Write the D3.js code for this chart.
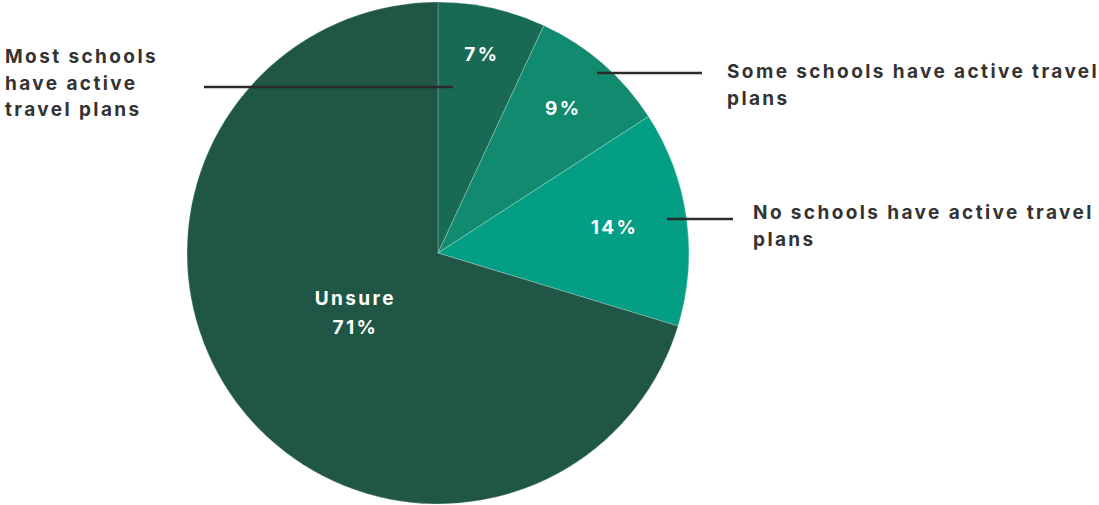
<!DOCTYPE html>
<html>
<head>
<meta charset="utf-8">
<script src="https://cdn.jsdelivr.net/npm/d3@7"></script>
<style>
  body { margin: 0; background: #fff; }
  text { font-family: Inter, "Noto Sans", sans-serif; font-weight: 700; }
</style>
</head>
<body>
<svg width="1099" height="505"></svg>
<script>
// slice data, clockwise from 12 o'clock
let categories = ['Most schools have active travel plans', 'Some schools have active travel plans', 'No schools have active travel plans', 'Unsure'];
let values = [7, 9, 14, 71];
let colors = ['#186a54', '#128a6f', '#049e84', '#205646'];

// inner label lines (white) and outer label lines
let innerLabels = [['7%'], ['9%'], ['14%'], ['Unsure', '71%']];
let outerLabels = [['Most schools', 'have active', 'travel plans'], ['Some schools have active travel', 'plans'], ['No schools have active travel', 'plans'], []];

const width = 1099, height = 505;
const cx = 438, cy = 253, radius = 251;

// where the inner labels sit, as a share of the radius
const labelRadius = [0.81, 0.76, 0.71, 0.41];

// leader lines: start / end relative to centre, text position
const callouts = [
  { x1: 15, x2: -234, y: -166, tx: 5, ty: 63 },
  { x1: 159, x2: 264, y: -180, tx: 727, ty: 78 },
  { x1: 229, x2: 295, y: -34, tx: 753, ty: 219 },
  null
];

const data = categories.map((c, i) => ({ name: c, value: values[i], i: i }));

const svg = d3.select('svg');
const g = svg.append('g').attr('transform', 'translate(' + cx + ',' + cy + ')');

const pie = d3.pie().value(d => d.value).sort(null);
const arcs = pie(data);
const arc = d3.arc().innerRadius(0).outerRadius(radius);

g.selectAll('path')
  .data(arcs)
  .enter()
  .append('path')
  .attr('d', arc)
  .attr('fill', d => colors[d.data.i])
  .attr('stroke', 'rgba(255,255,255,0.3)')
  .attr('stroke-width', 0.8);

// leader lines
g.selectAll('line.leader')
  .data(callouts.filter(c => c))
  .enter()
  .append('line')
  .attr('class', 'leader')
  .attr('x1', d => d.x1)
  .attr('x2', d => d.x2)
  .attr('y1', d => d.y)
  .attr('y2', d => d.y)
  .attr('stroke', '#2b2b2b')
  .attr('stroke-width', 2.5);

// inner percentage labels
arcs.forEach(function (a) {
  const i = a.data.i;
  const mid = (a.startAngle + a.endAngle) / 2;
  const r = radius * labelRadius[i];
  const x = Math.sin(mid) * r;
  const y = -Math.cos(mid) * r;
  const lines = innerLabels[i];
  const t = g.append('text')
    .attr('x', x)
    .attr('y', y - (lines.length - 1) * 15 + 6)
    .attr('text-anchor', 'middle')
    .attr('fill', '#fff')
    .attr('font-size', 19)
    .attr('letter-spacing', 2.4);
  lines.forEach(function (l, k) {
    t.append('tspan').attr('x', x).attr('dy', k == 0 ? 0 : 29).text(l);
  });
});

// outer category labels
callouts.forEach(function (c, i) {
  if (!c) return;
  const t = svg.append('text')
    .attr('x', c.tx)
    .attr('y', c.ty)
    .attr('fill', '#333333')
    .attr('font-size', 19)
    .attr('letter-spacing', 2.4);
  outerLabels[i].forEach(function (l, k) {
    t.append('tspan').attr('x', c.tx).attr('dy', k == 0 ? 0 : 26.5).text(l);
  });
});
</script>
</body>
</html>
